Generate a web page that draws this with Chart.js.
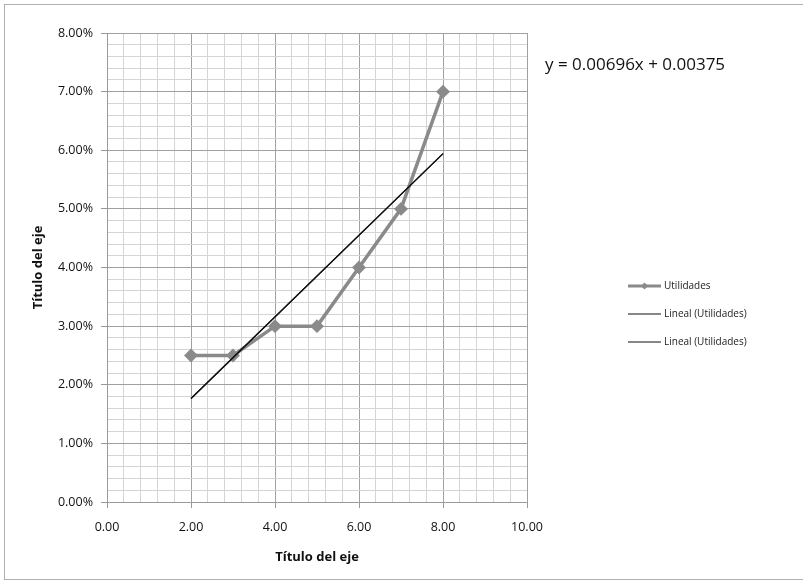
<!DOCTYPE html>
<html><head><meta charset="utf-8">
<script src="https://cdn.jsdelivr.net/npm/chart.js@4"></script>
<style>
html,body{margin:0;padding:0;background:#fff;}
#wrap{position:relative;width:803px;height:581px;overflow:hidden;}
#frame{position:absolute;left:4px;top:4px;width:802px;height:576px;border:1px solid #b0b0b0;box-sizing:border-box;}
canvas{position:absolute;left:0;top:0;}
#eq{position:absolute;left:545px;top:52px;font:17px "Open Sans",sans-serif;color:#111;white-space:nowrap;}
#legend{position:absolute;left:628px;top:278px;font:10px "Open Sans",sans-serif;color:#222;}
.li{position:relative;height:28px;}
.sw{position:absolute;left:0;top:8px;width:33px;}
.tx{position:absolute;left:36px;top:0px;white-space:nowrap;}
</style></head>
<body><div id="wrap"><div id="frame"></div><canvas id="c" width="803" height="581"></canvas>
<div id="eq">y = 0.00696x + 0.00375</div>
<div id="legend">
 <div class="li"><svg class="sw" height="2" style="overflow:visible"><line x1="0" y1="0" x2="33" y2="0" stroke="#8a8a8a" stroke-width="3"/><polygon points="16.5,-3.5 20,0 16.5,3.5 13,0" fill="#8a8a8a"/></svg><span class="tx">Utilidades</span></div>
 <div class="li"><svg class="sw" height="2" style="overflow:visible"><line x1="0" y1="0" x2="33" y2="0" stroke="#111" stroke-width="1.2"/></svg><span class="tx">Lineal (Utilidades)</span></div>
 <div class="li"><svg class="sw" height="2" style="overflow:visible"><line x1="0" y1="0" x2="33" y2="0" stroke="#111" stroke-width="1.2"/></svg><span class="tx">Lineal (Utilidades)</span></div>
</div>
</div>
<script>
const xValues = [2, 3, 4, 5, 6, 7, 8];
const utilidades = [0.025, 0.025, 0.030, 0.030, 0.040, 0.050, 0.070];
const trendSlope = 0.00696;
const trendIntercept = 0.00375;
const trendX = [2, 8];
const seriesName = "Utilidades";
const trendName = "Lineal (Utilidades)";
const axisTitle = "Título del eje";

const mainPts = xValues.map((x, i) => ({x: x, y: utilidades[i]}));
const trendPts = trendX.map(x => ({x: x, y: trendSlope * x + trendIntercept}));

function near(v, step){ const r = v / step; return Math.abs(r - Math.round(r)) < 1e-6; }

new Chart(document.getElementById('c'), {
  type: 'scatter',
  data: { datasets: [
    { label: seriesName, data: mainPts, showLine: true, borderColor: '#8a8a8a', backgroundColor: '#8a8a8a',
      borderWidth: 3.5, pointStyle: 'rectRot', pointRadius: 4.5, pointHoverRadius: 4.5, order: 2 },
    { label: trendName, data: trendPts, showLine: true, borderColor: '#111', borderWidth: 1.3, pointRadius: 0, order: 1 },
    { label: trendName, data: trendPts, showLine: true, borderColor: '#111', borderWidth: 1.3, pointRadius: 0, order: 1 }
  ]},
  options: {
    responsive: false, animation: false,
    layout: { padding: { left: 26, right: 276, top: 33, bottom: 12 } },
    plugins: { legend: { display: false }, tooltip: { enabled: false } },
    scales: {
      x: {
        type: 'linear', min: 0, max: 10,
        afterFit: s => { s.height = 67; },
        ticks: { stepSize: 0.4, autoSkip: false, maxRotation: 0, padding: 12, color: '#111',
          font: { family: 'Open Sans', size: 12.5 },
          callback: v => near(v, 2) ? v.toFixed(2) : '' },
        grid: { color: c => near(c.tick.value, 2) ? '#a0a0a0' : '#d4d4d4', lineWidth: 1,
          tickLength: 6, tickColor: c => near(c.tick.value, 2) ? '#999' : 'rgba(0,0,0,0)' },
        border: { color: '#999' },
        title: { display: true, text: axisTitle, color: '#111', font: { family: 'Open Sans', size: 13, weight: 'bold' }, padding: { top: 2 } }
      },
      y: {
        type: 'linear', min: 0, max: 0.08,
        afterFit: s => { s.width = 81; },
        ticks: { stepSize: 0.002, autoSkip: false, padding: 8, color: '#111',
          font: { family: 'Open Sans', size: 12.5 },
          callback: v => near(v, 0.01) ? (v * 100).toFixed(2) + '%' : '' },
        grid: { color: c => near(c.tick.value, 0.01) ? '#a0a0a0' : '#d4d4d4', lineWidth: 1,
          tickLength: 6, tickColor: c => near(c.tick.value, 0.01) ? '#999' : 'rgba(0,0,0,0)' },
        border: { color: '#999' },
        title: { display: true, text: axisTitle, color: '#111', font: { family: 'Open Sans', size: 13, weight: 'bold' }, padding: { bottom: 0 } }
      }
    }
  }
});
</script></body></html>
